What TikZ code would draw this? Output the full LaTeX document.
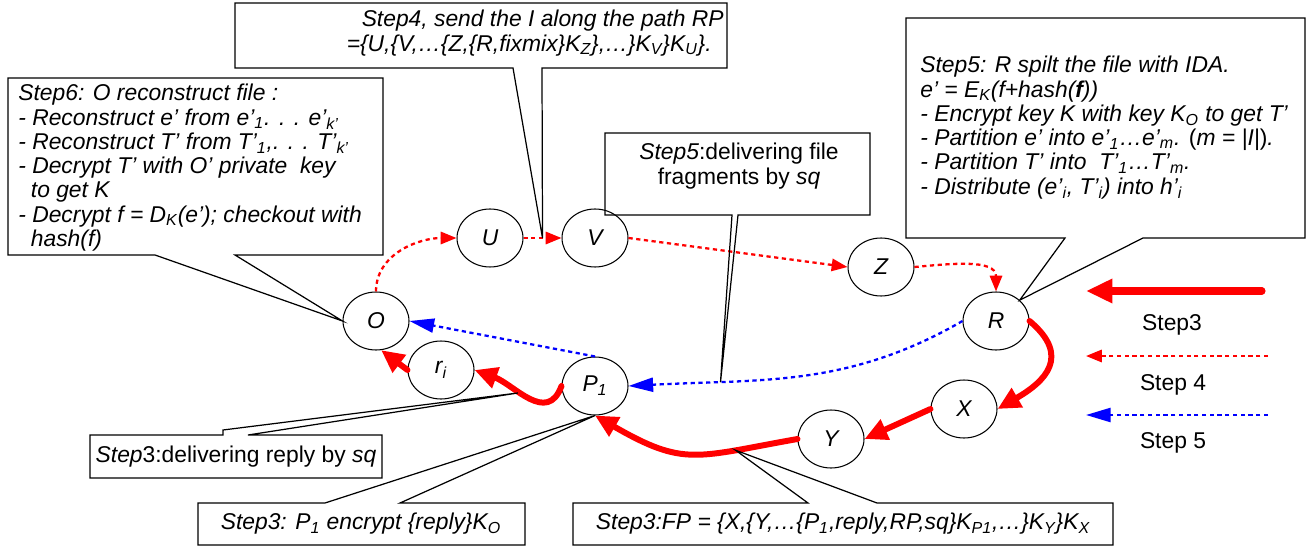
\documentclass[tikz,border=0pt]{standalone}
\usepackage{fontspec}
\setmainfont{Liberation Sans}
\usetikzlibrary{arrows.meta}
\usetikzlibrary{shapes.geometric}

\newcommand{\sbs}[1]{\textsubscript{#1}}

\tikzset{
  peer/.style={draw, ellipse, line width=0.6pt, minimum width=1.32cm, minimum height=1.16cm, inner sep=0pt, font=\fontsize{13}{13.8}\selectfont\itshape},
  fwd/.style={red, line width=3.4pt, line cap=round, -{Triangle[length=13pt,width=12pt]}},
  path4/.style={red, line width=1.3pt, dash pattern=on 2.4pt off 2pt, -{Triangle[length=9pt,width=7pt]}},
  path5/.style={blue, line width=1.3pt, dash pattern=on 2.4pt off 2pt, -{Triangle[length=14pt,width=8pt]}},
  callout/.style={draw, line width=0.7pt, line join=miter},
  note/.style={inner sep=0pt, align=left}
}

\begin{document}
\begin{tikzpicture}[x=0.02cm,y=-0.02cm,font=\fontsize{13}{13.8}\selectfont]
    \useasboundingbox (0,0) rectangle (1310,550);

    %peers
    \node [peer] (O) at (376,321) {O};
    \node [peer] (U) at (490,238) {U};
    \node [peer] (V) at (595,238) {V};
    \node [peer] (Z) at (881,267) {Z};
    \node [peer] (R) at (996,321) {R};
    \node [peer] (X) at (964,409) {X};
    \node [peer] (Y) at (831,439) {Y};
    \node [peer] (P1) at (595,386) {P\sbs{1}};
    \node [peer] (ri) at (441,370) {r\sbs{i}};

    %step 4: RP
    \draw [path4] (O.north) to [out=90,in=180] (U.west);
    \draw [path4] (U) to coordinate[pos=0.5] (s4tip) (V);
    \draw [path4] (V.east) to (Z.west);
    \draw [path4] (Z.east) to [out=5,in=90] (R.north);

    %step 5: fragments
    \draw [path5] (R.west) to [out=210,in=3] coordinate[pos=0.75] (s5tip) (P1.east);
    \draw [path5] (P1.north) to (O.east);

    %step 3: FP and reply
    \draw [fwd] (R.east) to [out=-40,in=30,looseness=1.5] (X.east);
    \draw [fwd] (X.west) to (Y.east);
    \draw [fwd] (Y.west) to [out=190,in=-30,looseness=1.3] coordinate[pos=0.25] (fptip) (P1.south);
    \draw [fwd] (P1.west) to [out=250,in=-20,looseness=1.2] coordinate[pos=0.6] (replytip) (ri.east);
    \draw [fwd] (ri.west) to (O.-80);

    %callouts
    \draw [callout] (8,78) -- (383,78) -- (383,255) -- (235,255) -- (O.west) -- (155,255) -- (8,255) -- cycle;
    \node [note, anchor=north west] (t6) at (18,84) {\itshape Step6: O reconstruct file :\\
      \itshape - Reconstruct e' from e'\sbs{1}. . . e'\sbs{k'}\\
      \itshape - Reconstruct T' from T'\sbs{1},. . . T'\sbs{k'}\\
      \itshape - Decrypt T' with O' private\ \ key\\
      \itshape \hspace*{0.55em}to get K\\
      \itshape - Decrypt f = D\sbs{K}(e'); checkout with\\
      \itshape \hspace*{0.55em}hash(f)};

    \draw [callout] (235,3) -- (727,3) -- (727,68) -- (542,68) -- (s4tip) -- (513,68) -- (235,68) -- cycle;
    \node [note, align=right, anchor=north east] (t4) at (724,10) {\itshape Step4, send the I along the path RP\\
      \itshape =\{U,\{V,\dots\{Z,\{R,fixmix\}K\sbs{Z}\},\dots\}K\sbs{V}\}K\sbs{U}\}.\hspace*{0.24cm}};

    \draw [callout] (906,18) -- (1305,18) -- (1305,238) -- (1143,238) -- (R.north east) -- (1065,238) -- (906,238) -- cycle;
    \node [note, anchor=north west] (t5) at (920,56) {\itshape Step5: R spilt the file with IDA.\\
      \itshape e' = E\sbs{K}(f+hash(\textbf{f}))\\
      \itshape - Encrypt key K with key K\sbs{O} to get T'\\
      \itshape - Partition e' into e'\sbs{1}\dots e'\sbs{m}. {\upshape(}m = |I|{\upshape)}.\\
      \itshape - Partition T' into\ \ T'\sbs{1}\dots T'\sbs{m}.\\
      \itshape - Distribute (e'\sbs{i}, T'\sbs{i}) into h'\sbs{i}};

    \draw [callout] (605,133) -- (870,133) -- (870,215) -- (738,215) -- (s5tip) -- (732,215) -- (605,215) -- cycle;
    \node [note, align=center, anchor=north] (t5b) at (739,143) {\textit{Step5}:delivering file\\fragments by \textit{sq}};

    \draw [callout] (90,435) -- (223,435) -- (223,430) -- (replytip) -- (248,435) -- (382,435) -- (382,478) -- (90,478) -- cycle;
    \node [note] (t3a) at (236,457) {\textit{Step}3:delivering reply by \textit{sq}};

    \draw [callout] (198,503) -- (325,503) -- (P1.south) -- (400,503) -- (525,503) -- (525,545) -- (198,545) -- cycle;
    \node [note] (t3b) at (361,524) {\itshape Step3: P\sbs{1} encrypt \{reply\}K\sbs{O}};

    \draw [callout] (573,503) -- (808,503) -- (fptip) -- (877,503) -- (1113,503) -- (1113,545) -- (573,545) -- cycle;
    \node [note] (t3c) at (843,524) {\itshape Step3:FP = \{X,\{Y,\dots\{P\sbs{1},reply,RP,sq\}K\sbs{P1},\dots\}K\sbs{Y}\}K\sbs{X}};

    %legend
    \coordinate (k3a) at (1262,291);
    \coordinate (k3b) at (1086,291);
    \draw [fwd, line width=4pt, -{Triangle[length=15pt,width=13pt]}] (k3a) -- (k3b);
    \node (k3) at (1172,325) {Step3};
    \coordinate (k4a) at (1268,356);
    \coordinate (k4b) at (1086,356);
    \draw [path4] (k4a) -- (k4b);
    \node (k4) at (1173,385) {Step 4};
    \coordinate (k5a) at (1268,415);
    \coordinate (k5b) at (1086,415);
    \draw [path5] (k5a) -- (k5b);
    \node (k5) at (1173,443) {Step 5};
\end{tikzpicture}
\end{document}
